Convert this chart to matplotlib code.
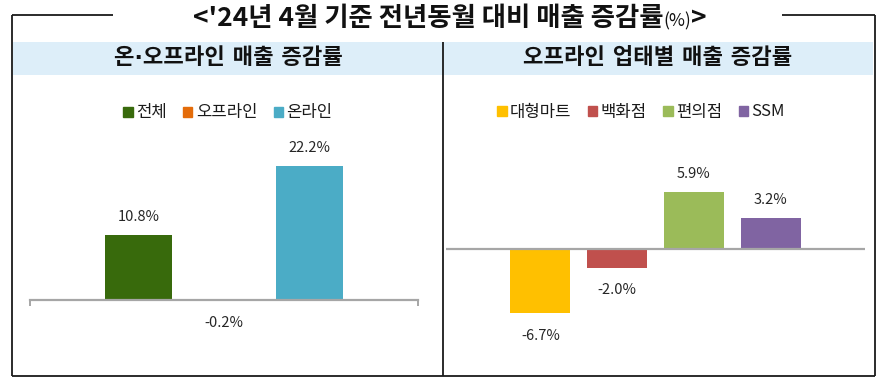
import matplotlib
matplotlib.use("Agg")
import matplotlib.pyplot as plt
from matplotlib.patches import Rectangle, Patch
from matplotlib.legend import Legend

plt.rcParams['font.family'] = ['Noto Sans CJK KR', 'DejaVu Sans']

# 데이터
title_main = "<'24년 4월 기준 전년동월 대비 매출 증감률"
title_unit = "(%)"
title_end = ">"
left_header = "온·오프라인 매출 증감률"
right_header = "오프라인 업태별 매출 증감률"

left_names = ["전체", "오프라인", "온라인"]
left_values = [10.8, -0.2, 22.2]
left_colors = ["#386A0C", "#E46C0A", "#4BACC6"]

right_names = ["대형마트", "백화점", "편의점", "SSM"]
right_values = [-6.7, -2.0, 5.9, 3.2]
right_colors = ["#FFC000", "#C0504D", "#9BBB59", "#8064A2"]

W, H = 886, 382
fig = plt.figure(figsize=(W / 100, H / 100), dpi=100)

# 배경 (픽셀 좌표)
bg = fig.add_axes([0, 0, 1, 1])
bg.set_xlim(0, W)
bg.set_ylim(H, 0)
bg.axis("off")

line_kw = dict(color="#1a1a1a", lw=1.3, solid_capstyle="butt")
bg.add_patch(Rectangle((13, 42), 860, 33, color="#DDEEF9", lw=0))
bg.plot([12, 113], [15, 15], **line_kw)
bg.plot([782, 875], [15, 15], **line_kw)
bg.plot([12, 12], [15, 376], **line_kw)
bg.plot([875, 875], [15, 376], **line_kw)
bg.plot([12, 875], [376, 376], **line_kw)
bg.plot([443, 443], [42, 376], **line_kw)

hdr_font = ['DejaVu Sans', 'Noto Sans CJK KR']
bg.text(228, 58, left_header, ha="center", va="center", fontsize=16, fontweight="bold",
        color="#111111", family=hdr_font)
bg.text(658, 58, right_header, ha="center", va="center", fontsize=16, fontweight="bold",
        color="#111111", family=hdr_font)

# 제목 (조각별 배치)
fig.canvas.draw()
r = fig.canvas.get_renderer()
pieces = [(title_main, 19, "bold"), (title_unit, 12.5, "normal"), (title_end, 19, "bold")]
objs = []
for s, fs, fw in pieces:
    objs.append(bg.text(0, 19, s, ha="left", va="center", fontsize=fs, fontweight=fw, color="#111111"))
widths = [o.get_window_extent(r).width for o in objs]
x = 450 - sum(widths) / 2
for o, w in zip(objs, widths):
    o.set_x(x)
    x += w
objs[1].set_y(21)


def make_axes(x0, x1, zero_y, scale):
    top, bot = 130, 370
    ax = fig.add_axes([x0 / W, 1 - bot / H, (x1 - x0) / W, (bot - top) / H])
    ax.set_ylim(-(bot - zero_y) / scale, (zero_y - top) / scale)
    ax.patch.set_alpha(0)
    for sp in ax.spines.values():
        sp.set_visible(False)
    ax.set_yticks([])
    return ax


def draw_bars(ax, names, values, colors, width, xpad):
    xs = list(range(len(values)))
    ax.bar(xs, values, width=width, color=colors, zorder=2)
    ax.set_xlim(-xpad, len(values) - 1 + xpad)
    for xi, v in zip(xs, values):
        off = 13 if v >= 0 else -16
        ax.annotate(f"{v:.1f}%", (xi, v), xytext=(0, off), textcoords="offset points",
                    ha="center", va="center", fontsize=10.5, color="#262626")
    handles = [Patch(color=c, label=n) for n, c in zip(names, colors)]
    return handles


# 왼쪽 차트
axl = make_axes(30, 418, 300, 6.03)
hl = draw_bars(axl, left_names, left_values, left_colors, 0.79, 1.27)
axl.spines["bottom"].set_visible(True)
axl.spines["bottom"].set_position(("data", 0))
axl.spines["bottom"].set_color("#A6A6A6")
axl.spines["bottom"].set_linewidth(1.6)
axl.set_xticks(axl.get_xlim())
axl.tick_params(axis="x", length=4, width=1.4, color="#A6A6A6", labelbottom=False, direction="out")

# 오른쪽 차트
axr = make_axes(446, 865, 249, 9.6)
hr = draw_bars(axr, right_names, right_values, right_colors, 0.78, 1.23)
axr.axhline(0, color="#A6A6A6", lw=1.6, zorder=3)
axr.set_xticks([])

leg_kw = dict(loc="center", frameon=False, fontsize=12, handlelength=0.55, handleheight=0.55,
              handletextpad=0.2, columnspacing=1.0, borderpad=0, labelcolor="#1a1a1a")
bg.legend(handles=hl, ncol=3, bbox_to_anchor=(228, 113), bbox_transform=bg.transData, **leg_kw)
bg.add_artist(Legend(bg, hr, [h.get_label() for h in hr], ncol=4,
                     bbox_to_anchor=(641, 112), bbox_transform=bg.transData, **leg_kw))

fig.savefig("out.png", dpi=100)
